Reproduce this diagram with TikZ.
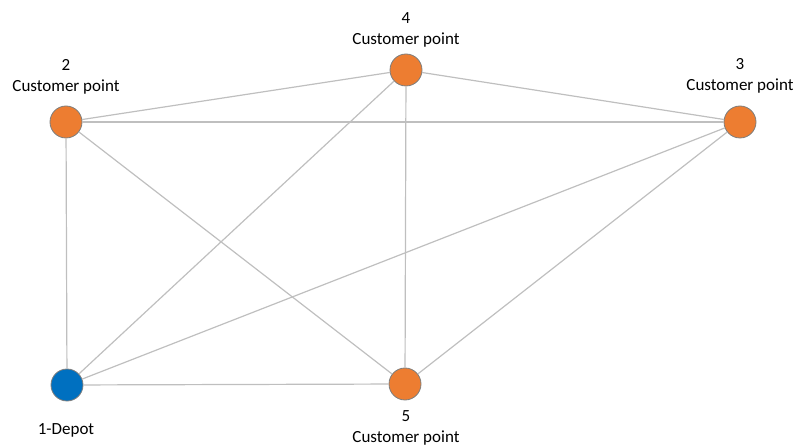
\documentclass[tikz,border=0pt]{standalone}
\usepackage{fontspec}
\setmainfont{Carlito}
\usepackage{xcolor}
\definecolor{custorange}{HTML}{ED7D31}
\definecolor{depotblue}{HTML}{0070C0}
\definecolor{edgegray}{RGB}{191,191,191}
\definecolor{rimgray}{RGB}{125,125,125}

\begin{document}
\begin{tikzpicture}[
    x=1pt, y=-1pt,
    point/.style = {circle, draw=rimgray, line width=0.8pt, minimum size=32pt, inner sep=0pt},
    customer/.style = {point, fill=custorange},
    depot/.style = {point, fill=depotblue},
    tag/.style = {align=center, font=\fontsize{17}{21}\selectfont, inner sep=0pt},
    edge/.style = {draw=edgegray, line width=1.2pt}]
    \useasboundingbox (0,0) rectangle (796,446);
    % NODES
    % depot
    \node[depot] (P1) at (67,385) {};
    % customer points
    \node[customer] (P2) at (66,122) {};
    \node[customer] (P3) at (740,122) {};
    \node[customer] (P4) at (406,70) {};
    \node[customer] (P5) at (405,384) {};
    % captions
    \node[tag] (T1) at (66,430) {1-Depot};
    \node[tag] (T2) at (66,77) {2\\Customer point};
    \node[tag] (T3) at (740,76) {3\\Customer point};
    \node[tag] (T4) at (406,30) {4\\Customer point};
    \node[tag] (T5) at (406,428) {5\\Customer point};

    % EDGES
    \draw[edge] (P2)--(P4);
    \draw[edge] (P2)--(P3);
    \draw[edge] (P2)--(P1);
    \draw[edge] (P2)--(P5);
    \draw[edge] (P4)--(P3);
    \draw[edge] (P4)--(P1);
    \draw[edge] (P4)--(P5);
    \draw[edge] (P3)--(P1);
    \draw[edge] (P3)--(P5);
    \draw[edge] (P1)--(P5);
\end{tikzpicture}
\end{document}
